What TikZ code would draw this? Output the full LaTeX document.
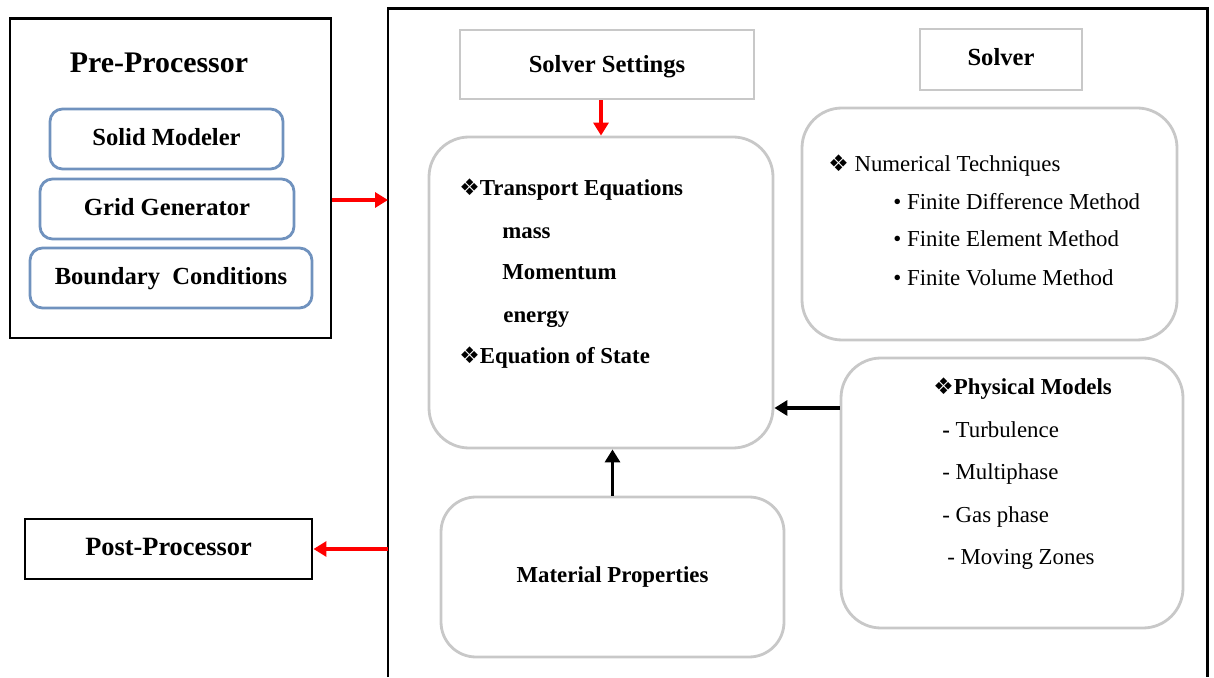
\documentclass[tikz,border=0pt]{standalone}
\usepackage{fontspec}
\setmainfont{Liberation Serif}
\newfontfamily\symfont{DejaVu Sans}
\usetikzlibrary{arrows.meta}
\definecolor{boxgray}{RGB}{200,200,200}
\definecolor{boxblue}{RGB}{112,146,190}
\newcommand{\dmd}{{\symfont ❖}}
\tikzset{
  outerbox/.style={draw=black, line width=1.7pt, text height=1.6ex, text depth=0.1ex},
  preitem/.style={draw=boxblue, line width=1.6pt, rounded corners=0.25cm, minimum height=1.2cm, text height=1.6ex, text depth=0.1ex, font=\fontsize{14}{16}\selectfont\bfseries},
  graybox/.style={draw=boxgray, line width=1.6pt, text height=1.6ex, text depth=0.1ex},
  roundbox/.style={draw=boxgray, line width=1.6pt, rounded corners=0.8cm},
  lbl/.style={right, inner sep=0pt, text height=1.6ex, text depth=0.3ex, font=\fontsize{13}{15}\selectfont},
  redarrow/.style={->, red, line width=1.8pt},
  blackarrow/.style={->, black, line width=1.8pt}
}
\begin{document}
\begin{tikzpicture}[>={Triangle[length=0.26cm,width=0.3cm]}]
\useasboundingbox (0,0) rectangle (24.28,13.54);
% pre-processor
\node [outerbox, minimum width=6.42cm, minimum height=6.38cm] (pre) at (3.41,9.97) {};
\node [font=\fontsize{17}{20}\selectfont\bfseries] (pretitle) at (3.18,12.28) {Pre-Processor};
\node [preitem, minimum width=4.66cm] (solid) at (3.33,10.76) {Solid Modeler};
\node [preitem, minimum width=5.08cm] (grid) at (3.34,9.36) {Grid Generator};
\node [preitem, minimum width=5.64cm] (bound) at (3.42,7.98) {Boundary\ \ Conditions};
% post-processor
\node [outerbox, minimum width=5.74cm, minimum height=1.2cm, font=\fontsize{15}{17}\selectfont\bfseries] (post) at (3.37,2.56) {Post-Processor};
% main frame, open at the bottom
\draw [outerbox] (7.76,0) -- (7.76,13.36) -- (24.14,13.36) -- (24.14,0);
\coordinate (inL) at (7.76,9.54);
\coordinate (outL) at (7.76,2.56);
% solver side
\node [graybox, text height=2.0ex, minimum width=5.88cm, minimum height=1.38cm, font=\fontsize{14}{16}\selectfont\bfseries] (set) at (12.14,12.25) {Solver Settings};
\node [graybox, minimum width=3.24cm, minimum height=1.22cm, font=\fontsize{14}{16}\selectfont\bfseries] (solver) at (20.02,12.35) {Solver};
\node [roundbox, minimum width=6.88cm, minimum height=6.22cm] (tr) at (12.02,7.69) {};
\node [roundbox, minimum width=7.5cm, minimum height=4.64cm] (num) at (19.79,9.06) {};
\node [roundbox, minimum width=6.84cm, minimum height=5.4cm] (phys) at (20.24,3.68) {};
\node [roundbox, rounded corners=0.7cm, minimum width=6.86cm, minimum height=3.2cm, font=\fontsize{13}{15}\selectfont\bfseries] (mat) at (12.25,2.0) {Material Properties};
% transport box text
\node [lbl, font=\fontsize{13}{15}\selectfont\bfseries] (teq) at (9.18,9.74) {\dmd Transport Equations};
\node [lbl, font=\fontsize{13}{15}\selectfont\bfseries] (mass) at (10.04,8.88) {mass};
\node [lbl, font=\fontsize{13}{15}\selectfont\bfseries] (mom) at (10.04,8.06) {Momentum};
\node [lbl, font=\fontsize{13}{15}\selectfont\bfseries] (ener) at (10.06,7.2) {energy};
\node [lbl, font=\fontsize{13}{15}\selectfont\bfseries] (eos) at (9.18,6.38) {\dmd Equation of State};
% numerical techniques
\node [lbl] (numt) at (16.56,10.22) {\dmd\ Numerical Techniques};
\node [lbl] (fdm) at (17.86,9.46) {\textbullet\ Finite Difference Method};
\node [lbl] (fem) at (17.86,8.72) {\textbullet\ Finite Element Method};
\node [lbl] (fvm) at (17.86,7.94) {\textbullet\ Finite Volume Method};
% physical models
\node [lbl, font=\fontsize{13}{15}\selectfont\bfseries] (pm) at (18.66,5.76) {\dmd Physical Models};
\node [lbl] (turb) at (18.84,4.9) {\textbf{-} Turbulence};
\node [lbl] (multi) at (18.84,4.06) {- Multiphase};
\node [lbl] (gas) at (18.84,3.2) {- Gas phase};
\node [lbl] (mov) at (18.94,2.36) {- Moving Zones};
% connectors
\coordinate (pmy) at (16.1,5.38);
\draw [redarrow] (pre.east |- inL) -- (inL);
\draw [redarrow] (outL) -- (post.east);
\draw [redarrow] (set.south -| tr.north) -- (tr.north);
\draw [blackarrow] (phys.west |- pmy) -- (tr.east |- pmy);
\draw [blackarrow] (mat.north) -- (mat.north |- tr.south);
\end{tikzpicture}
\end{document}
